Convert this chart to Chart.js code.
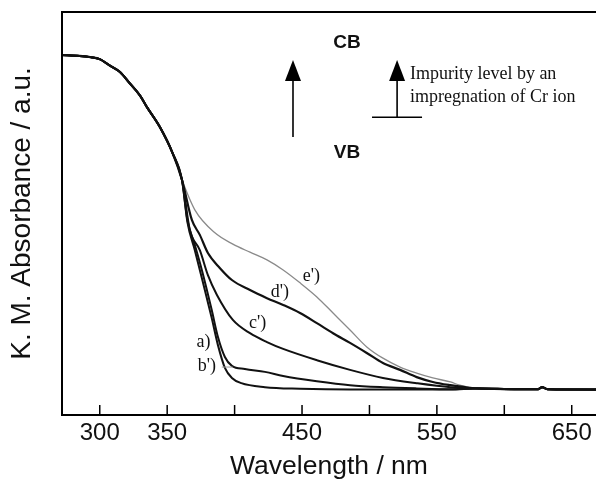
<!DOCTYPE html>
<html lang="en">
<head>
    <meta charset="UTF-8">
    <title>K. M. Absorbance spectra</title>
    <style>
        body {
            margin: 0;
            background-color: #ffffff;
            overflow: hidden;
        }
        canvas {
            display: block;
        }
    </style>
</head>
<body>
    <canvas id="kmChart" width="596" height="484"></canvas>

    <script src="https://cdn.jsdelivr.net/npm/chart.js"></script>
    <script>
        // shared part of all spectra (wavelength nm, absorbance a.u.)
        const commonPart = [[272, 89.3], [285, 89.1], [293, 88.8], [300, 88.3], [307, 86.8], [315, 85.1],
            [322, 82.4], [330, 79.2], [335, 76.4], [344.5, 71.5], [354, 65.0], [361, 58.3]];
        // flat tail after all curves merge
        const tailPart = [[580, 6.6], [610, 6.4], [625, 6.4], [628, 6.9], [632, 6.4], [668, 6.3]];

        const curveA = [[365, 47.9], [370.5, 40.9], [375.7, 34.0], [383, 24.1], [387.6, 17.4], [392.8, 11.7],
            [398, 9.2], [405, 7.9], [422.5, 6.9], [448.5, 6.5], [485.6, 6.3], [560, 6.3]];
        const curveB = [[365, 48.4], [370.5, 42.2], [375.7, 36.0], [383, 26.1], [387.6, 19.4], [392.8, 14.4],
            [398, 12.2], [407.6, 11.4], [422.5, 10.7], [436, 9.7], [461, 8.4], [485.6, 7.4], [510, 6.9],
            [535, 6.6], [560, 6.4]];
        const curveC = [[366.8, 45.9], [374.2, 40.9], [380.2, 34.7], [386.9, 29.8], [398.7, 23.6], [411.4, 20.3],
            [424, 18.1], [436, 16.4], [461, 13.6], [485.6, 11.2], [510, 9.2], [535, 7.9], [560, 6.9]];
        const curveD = [[368.3, 48.4], [374.2, 44.7], [380.2, 40.2], [389, 36.5], [398, 33.5], [411.4, 31.0],
            [424, 29.0], [436, 27.3], [448.5, 25.3], [461, 22.8], [473, 20.3], [485.6, 17.9], [498, 15.4],
            [510, 12.9], [522.7, 11.2], [535, 9.4], [547, 8.2], [560, 7.4], [571, 6.9]];
        const curveE = [[370.5, 50.9], [385.4, 45.2], [398.7, 42.4], [411.4, 40.4], [424, 38.5], [436, 36.0],
            [448.5, 32.8], [461, 29.3], [473, 25.3], [485.6, 21.1], [498, 16.9], [510, 14.1], [522.7, 11.9],
            [535, 10.4], [547, 9.2], [560, 8.2], [567, 7.4]];

        const tickValues = [300, 350, 400, 450, 500, 550, 600, 650];
        const tickLabels = ['300', '350', '', '450', '', '550', '', '650'];

        const curveNames = ["a)", "b')", "c')", "d')", "e')"];
        const labelX = [377, 379.5, 417, 433.5, 457];
        const labelY = [18.1, 12.2, 22.8, 30.5, 34.5];

        function fullCurve(mid) {
            return commonPart.concat(mid, tailPart).map(p => ({ x: p[0], y: p[1] }));
        }

        const curves = [curveA, curveB, curveC, curveD, curveE];
        const colors = ['#111', '#111', '#111', '#111', '#8a8a8a'];
        const widths = [2, 2, 2, 2.2, 1.3];

        const datasets = curves.map((c, i) => ({
            label: curveNames[i],
            data: fullCurve(c),
            borderColor: colors[i],
            borderWidth: widths[i],
            pointRadius: 0,
            fill: false,
            cubicInterpolationMode: 'monotone'
        }));

        // frame, inward ticks and the band diagram
        const extrasPlugin = {
            id: 'extras',
            afterDraw(chart) {
                const ctx = chart.ctx;
                const area = chart.chartArea;
                const xs = chart.scales.x;
                const ys = chart.scales.y;
                const px = v => xs.getPixelForValue(v);
                const py = v => ys.getPixelForValue(v);

                ctx.save();
                ctx.strokeStyle = '#000';
                ctx.lineWidth = 2;
                ctx.beginPath();
                ctx.moveTo(area.right + 2, area.top);
                ctx.lineTo(area.left, area.top);
                ctx.lineTo(area.left, area.bottom);
                ctx.lineTo(area.right + 2, area.bottom);
                ctx.stroke();

                ctx.lineWidth = 1.5;
                tickValues.forEach(v => {
                    ctx.beginPath();
                    ctx.moveTo(px(v), area.bottom);
                    ctx.lineTo(px(v), area.bottom - 10);
                    ctx.stroke();
                });

                // curve labels
                ctx.fillStyle = '#111';
                ctx.font = '18px "Liberation Serif", serif';
                ctx.textAlign = 'center';
                ctx.textBaseline = 'middle';
                curveNames.forEach((n, i) => ctx.fillText(n, px(labelX[i]), py(labelY[i])));
                ctx.strokeStyle = '#999';
                ctx.lineWidth = 1;
                ctx.beginPath();
                ctx.moveTo(px(390.5), py(11.9));
                ctx.lineTo(px(398.5), py(11.9));
                ctx.stroke();

                // arrows
                function arrow(x, yTip, yBase) {
                    const X = px(x), T = py(yTip), B = py(yBase);
                    ctx.strokeStyle = '#000';
                    ctx.lineWidth = 1.6;
                    ctx.beginPath();
                    ctx.moveTo(X, B);
                    ctx.lineTo(X, T + 15);
                    ctx.stroke();
                    ctx.fillStyle = '#000';
                    ctx.beginPath();
                    ctx.moveTo(X, T);
                    ctx.lineTo(X - 8, T + 21);
                    ctx.lineTo(X + 8, T + 21);
                    ctx.closePath();
                    ctx.fill();
                }
                arrow(443.3, 88.1, 69.0);
                arrow(520.5, 88.1, 73.9);
                ctx.lineWidth = 1.6;
                ctx.beginPath();
                ctx.moveTo(px(501.9), py(73.9));
                ctx.lineTo(px(539), py(73.9));
                ctx.stroke();

                ctx.fillStyle = '#111';
                ctx.font = 'bold 19px "Liberation Sans", Arial, sans-serif';
                ctx.textAlign = 'center';
                ctx.fillText('CB', px(483.4), py(92.3));
                ctx.fillText('VB', px(483.4), py(65.0));

                ctx.font = '18px "Liberation Serif", serif';
                ctx.textAlign = 'left';
                ctx.fillText('Impurity level by an', px(530), py(84.6));
                ctx.fillText('impregnation of Cr ion', px(530), py(78.9));
                ctx.restore();
            }
        };

        const ctx = document.getElementById('kmChart').getContext('2d');
        const kmChart = new Chart(ctx, {
            type: 'line',
            data: { datasets: datasets },
            options: {
                responsive: false,
                maintainAspectRatio: false,
                animation: false,
                layout: { padding: { top: 12, right: 0, left: 0, bottom: 0 } },
                plugins: {
                    legend: { display: false },
                    tooltip: { enabled: false }
                },
                scales: {
                    x: {
                        type: 'linear',
                        min: 272,
                        max: 668,
                        afterBuildTicks(scale) {
                            scale.ticks = tickValues.map(v => ({ value: v }));
                        },
                        afterFit(scale) {
                            scale.height = 69;
                        },
                        grid: { display: false, drawTicks: false },
                        border: { display: false },
                        ticks: {
                            autoSkip: false,
                            maxRotation: 0,
                            padding: 4,
                            color: '#111',
                            font: { family: '"Liberation Sans", Arial, sans-serif', size: 24 },
                            callback: (v) => tickLabels[tickValues.indexOf(v)] || ''
                        },
                        title: {
                            display: true,
                            text: 'Wavelength / nm',
                            color: '#111',
                            padding: { top: 0, bottom: 1 },
                            font: { family: '"Liberation Sans", Arial, sans-serif', size: 26.5 }
                        }
                    },
                    y: {
                        min: 0,
                        max: 100,
                        afterFit(scale) {
                            scale.width = 62;
                        },
                        grid: { display: false },
                        border: { display: false },
                        ticks: { display: false },
                        title: {
                            display: true,
                            text: 'K. M. Absorbance / a.u.',
                            color: '#111',
                            padding: { top: 5, bottom: 0 },
                            font: { family: '"Liberation Sans", Arial, sans-serif', size: 28 }
                        }
                    }
                }
            },
            plugins: [extrasPlugin]
        });
    </script>
</body>
</html>
